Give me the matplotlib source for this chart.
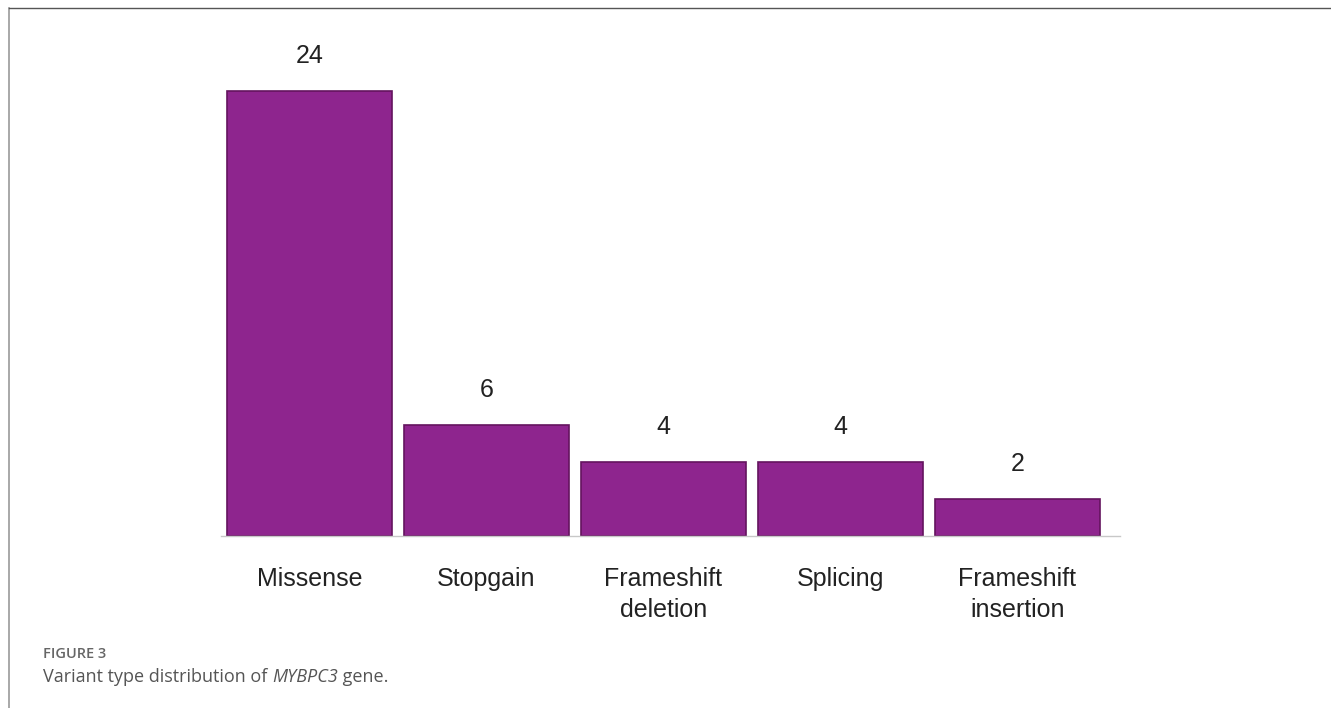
import matplotlib
matplotlib.use("Agg")
import matplotlib.pyplot as plt
from matplotlib.lines import Line2D

# Variant counts per type
categories = ["Missense", "Stopgain", "Frameshift\ndeletion", "Splicing", "Frameshift\ninsertion"]
counts = [24, 6, 4, 4, 2]

W, H = 1331, 708
plt.rcParams["font.family"] = ["Open Sans", "DejaVu Sans"]

fig = plt.figure(figsize=(W / 100, H / 100), dpi=100)

# axes placed in pixel coordinates
left, right, base = 221, 1120, 536
ymax = 27
height = ymax * 445 / 24
ax = fig.add_axes([left / W, (H - base) / H, (right - left) / W, height / H])

lab_font = ["Liberation Sans", "DejaVu Sans"]
x = range(len(categories))
bars = ax.bar(x, counts, width=0.93, color="#8e258e", edgecolor="#64145f", linewidth=1.2)
for b, v in zip(bars, counts):
    ax.text(b.get_x() + b.get_width() / 2, v + 1.25, str(v), ha="center", va="bottom",
            fontsize=18, color="#222222", family=lab_font)

ax.set_xlim(-0.5, len(categories) - 0.5 + 0.08)
ax.set_ylim(0, ymax)
ax.set_xticks(list(x))
ax.set_xticklabels(categories, fontsize=18, color="#222222", linespacing=1.38,
                   family=lab_font)
ax.tick_params(axis="x", length=0, pad=22)
ax.set_yticks([])
for s in ["top", "right", "left"]:
    ax.spines[s].set_visible(False)
ax.spines["bottom"].set_color("#c8c8c8")
ax.spines["bottom"].set_linewidth(1.0)

# outer frame lines (left and top)
fig.add_artist(Line2D([9 / W, 9 / W], [0, 1 - 8 / H], transform=fig.transFigure,
                      color="#9a9a9a", linewidth=1.2))
fig.add_artist(Line2D([9 / W, 1], [1 - 8 / H, 1 - 8 / H], transform=fig.transFigure,
                      color="#555555", linewidth=1.0))

# caption, gene name in italics
fig.text(43 / W, 1 - 654 / H, "FIGURE 3", fontsize=10.5, color="#666666", va="center",
         fontweight="semibold")
renderer = fig.canvas.get_renderer()
xpos = 43
cap_y = 1 - 677 / H
for part, style in [("Variant type distribution of ", "normal"), ("MYBPC3", "italic"), (" gene.", "normal")]:
    t = fig.text(xpos / W, cap_y, part, fontsize=13, color="#555555", va="center", style=style)
    xpos += t.get_window_extent(renderer).width

fig.savefig("out.png", dpi=100)
